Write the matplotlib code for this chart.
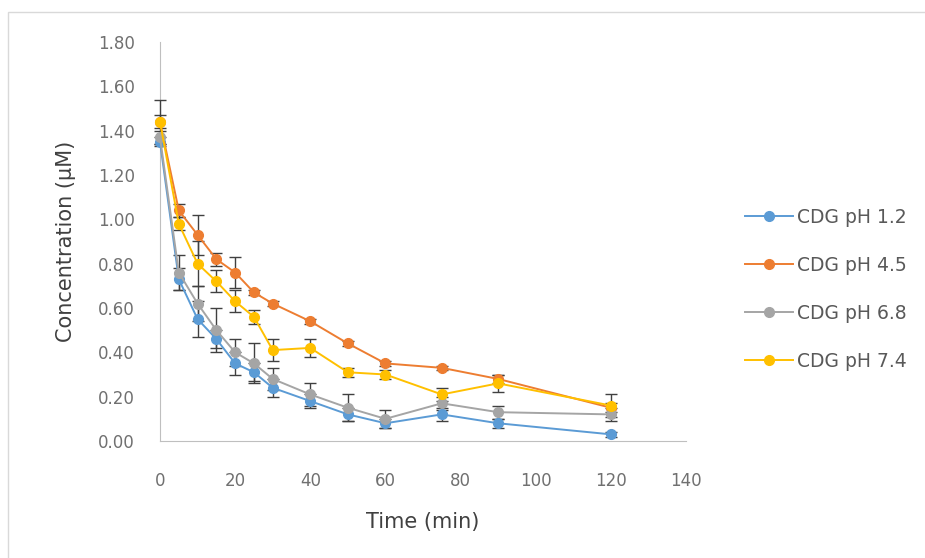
import matplotlib.pyplot as plt
from matplotlib.patches import Rectangle

plt.rcParams['font.family'] = ['DejaVu Sans']

time_min = [0, 5, 10, 15, 20, 25, 30, 40, 50, 60, 75, 90, 120]

ph12 = [1.35, 0.73, 0.55, 0.46, 0.35, 0.31, 0.24, 0.18, 0.12, 0.08, 0.12, 0.08, 0.03]
ph45 = [1.44, 1.04, 0.93, 0.82, 0.76, 0.67, 0.62, 0.54, 0.44, 0.35, 0.33, 0.28, 0.15]
ph68 = [1.37, 0.76, 0.62, 0.50, 0.40, 0.35, 0.28, 0.21, 0.15, 0.10, 0.17, 0.13, 0.12]
ph74 = [1.44, 0.98, 0.80, 0.72, 0.63, 0.56, 0.41, 0.42, 0.31, 0.30, 0.21, 0.26, 0.16]

err12 = [0.02, 0.05, 0.08, 0.04, 0.05, 0.04, 0.04, 0.03, 0.03, 0.02, 0.03, 0.02, 0.01]
err45 = [0.10, 0.03, 0.09, 0.03, 0.07, 0.01, 0.01, 0.01, 0.01, 0.01, 0.01, 0.02, 0.02]
err68 = [0.03, 0.08, 0.08, 0.10, 0.06, 0.09, 0.05, 0.05, 0.06, 0.04, 0.03, 0.03, 0.03]
err74 = [0.03, 0.03, 0.10, 0.05, 0.05, 0.03, 0.05, 0.04, 0.02, 0.02, 0.03, 0.04, 0.05]

labels = ['CDG pH 1.2', 'CDG pH 4.5', 'CDG pH 6.8', 'CDG pH 7.4']
colors = ['#5B9BD5', '#ED7D31', '#A5A5A5', '#FFC000']

fig = plt.figure(figsize=(9.25, 5.58), dpi=100)
fig.patches.append(Rectangle((8 / 925, -0.01), 1.0, 1 - 12 / 558 + 0.01,
                             transform=fig.transFigure, fill=False,
                             edgecolor='#D9D9D9', linewidth=1))
ax = fig.add_axes([160 / 925, 1 - 441 / 558, 526 / 925, 399 / 558])

for vals, errs, lab, col in zip([ph12, ph45, ph68, ph74],
                                [err12, err45, err68, err74], labels, colors):
    ax.errorbar(time_min, vals, yerr=errs, color=col, marker='o', markersize=7,
                linewidth=1.4, ecolor='#404040', elinewidth=1, capsize=4,
                capthick=1, label=lab, zorder=3, clip_on=False)

ax.set_xlim(0, 140)
ax.set_ylim(0, 1.8)
ax.set_xticks(range(0, 141, 20))
ax.set_yticks([i * 0.2 for i in range(10)])
ax.set_yticklabels([f'{i * 0.2:.2f}' for i in range(10)])
ax.tick_params(length=0, labelsize=12, labelcolor='#707070')
ax.tick_params(axis='y', pad=18)
ax.tick_params(axis='x', pad=22)

for side in ['top', 'right']:
    ax.spines[side].set_visible(False)
for side in ['left', 'bottom']:
    ax.spines[side].set_color('#BFBFBF')

ax.set_xlabel('Time (min)', fontsize=15, color='#404040', labelpad=16)
ax.set_ylabel('Concentration (μM)', fontsize=15, color='#404040', labelpad=16)

# legend without error bars
handles = [plt.Line2D([], [], color=c, marker='o', markersize=7, linewidth=1.4)
           for c in colors]
ax.legend(handles, labels, loc='center left', bbox_to_anchor=(1.08, 0.38),
          frameon=False, fontsize=13.5, labelcolor='#595959',
          labelspacing=1.55, handlelength=2.55, handletextpad=0.25)

fig.savefig('out.png', dpi=100)
